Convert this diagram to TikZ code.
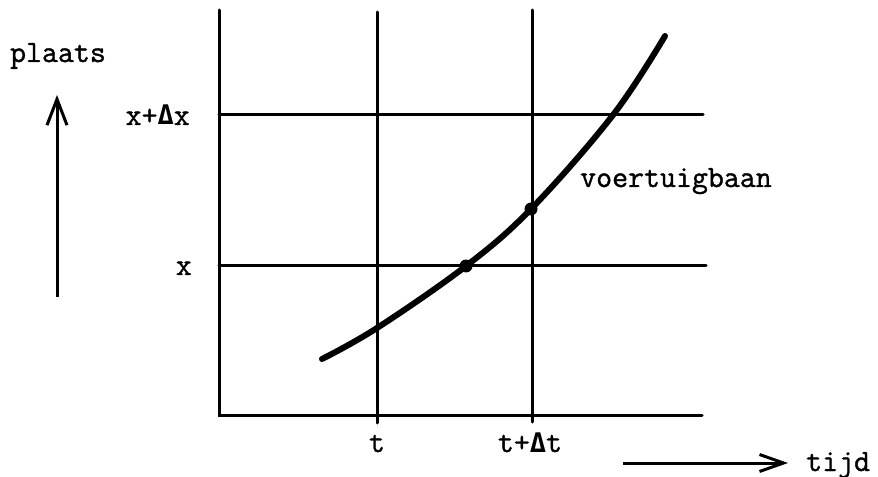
\documentclass[tikz,border=0pt]{standalone}
\usepackage{fontspec}
\usetikzlibrary{arrows.meta}
\newfontfamily\tw{Latin Modern Mono}[FakeBold=1.2]
\newfontfamily\deltafont{DejaVu Sans Mono Bold}
\newcommand{\Dl}{{\deltafont\fontsize{27bp}{30bp}\selectfont Δ}}
\begin{document}
\begin{tikzpicture}[x=1bp,y=-1bp,
  lbl/.style={font=\tw\fontsize{31bp}{36bp}\selectfont, inner sep=0pt},
  grid/.style={line width=3bp, line cap=round},
  path/.style={line width=6bp, line cap=round},
  ax/.style={line width=3bp, -{Straight Barb[length=26bp,width=20bp,line width=3bp]}},
  dot/.style={circle, fill=black, minimum size=13bp, inner sep=0pt}]
\useasboundingbox (0,0) rectangle (878,477);
% grid
\coordinate (LT) at (219,10);
\coordinate (LB) at (219,415);
\coordinate (BR) at (702,415);
\coordinate (T1t) at (377,12);
\coordinate (T1b) at (377,423);
\coordinate (T2t) at (532,10);
\coordinate (T2b) at (532,422);
\coordinate (H1l) at (219,115);
\coordinate (H1r) at (703,115);
\coordinate (H2l) at (219,266);
\coordinate (H2r) at (706,266);
\draw[grid] (LT) -- (LB) -- (BR);
\draw[grid] (T1t) -- (T1b);
\draw[grid] (T2t) -- (T2b);
\draw[grid] (H1l) -- (H1r);
\draw[grid] (H2l) -- (H2r);
% curve
\draw[path] plot[smooth, tension=0.6] coordinates {(322,359) (377,328) (466,266) (531,209) (613,115) (665,36)};
\node[dot] (p1) at (466,266) {};
\node[dot] (p2) at (531,209) {};
% axes arrows
\coordinate (ya) at (57,297);
\coordinate (yb) at (57,95);
\draw[ax] (ya) -- (yb);
\coordinate (xa) at (623,463);
\coordinate (xb) at (788,463);
\draw[ax, -{Straight Barb[length=24bp,width=17bp,line width=3bp]}] (xa) -- (xb);
% labels
\node[lbl, anchor=base] (plaats) at (58,62) {plaats};
\node[lbl, anchor=base east] (xdx) at (190,125) {x+\Dl x};
\node[lbl, anchor=base east] (xl) at (192,275) {x};
\node[lbl, anchor=base] (tl) at (377,452) {t};
\node[lbl, anchor=base] (tdt) at (530,452) {t+\Dl t};
\node[lbl, anchor=base west] (vb) at (580,187) {voertuigbaan};
\node[lbl, anchor=base west] (tijd) at (806,471) {tijd};
\end{tikzpicture}
\end{document}
